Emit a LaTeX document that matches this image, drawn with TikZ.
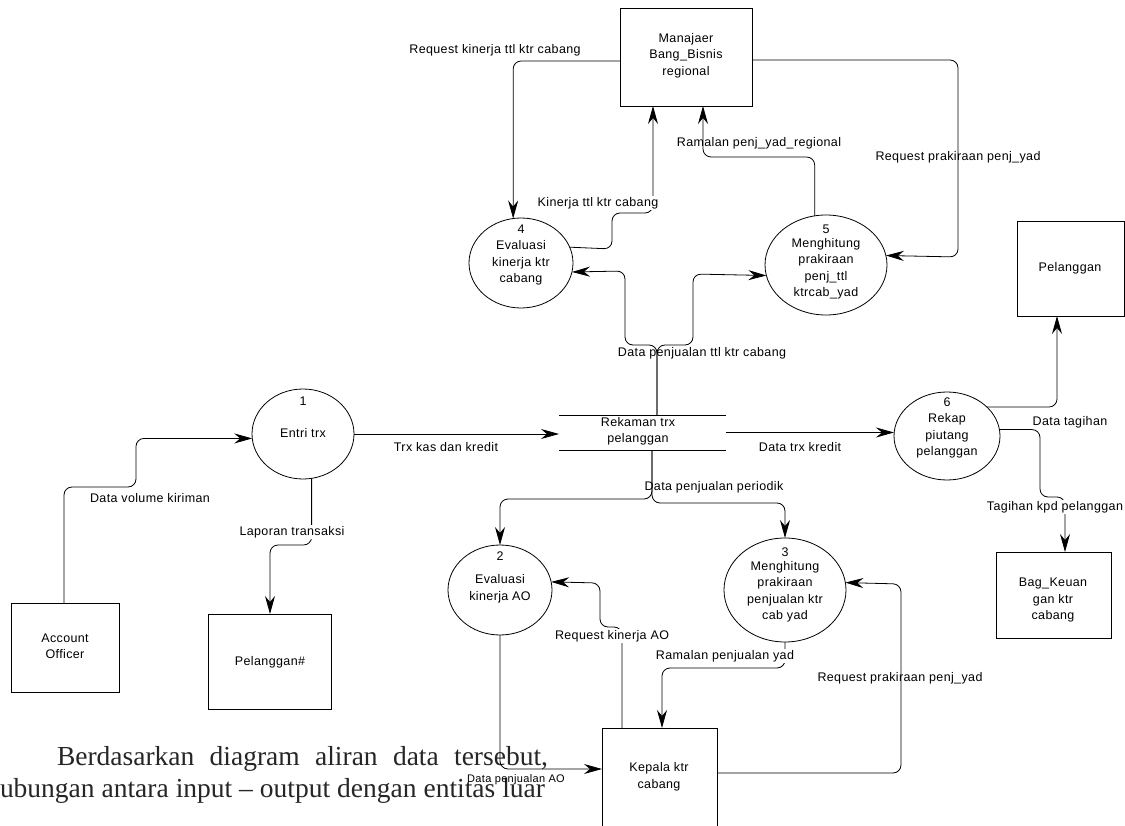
\documentclass[tikz,border=0pt]{standalone}
\usepackage{fontspec}
\newfontfamily\dsf[LetterSpace=3]{Liberation Sans}
\newfontfamily\srf{Liberation Serif}
\usetikzlibrary{arrows.meta,shapes.geometric}
\begin{document}
\begin{tikzpicture}[x=1pt,y=-1pt,
  every node/.style={inner sep=0pt, outer sep=0pt},
  dtxt/.style={font=\dsf\fontsize{12.5}{16.5}\selectfont, align=center},
  lbl/.style={font=\dsf\fontsize{12.5}{15}\selectfont},
  lblw/.style={lbl, fill=white, inner sep=1pt},
  ent/.style={draw, line width=0.8pt, rectangle},
  proc/.style={draw, line width=0.8pt, ellipse},
  link/.style={draw, line width=0.8pt},
  serif/.style={anchor=base west, font=\srf\fontsize{27.5}{32}\selectfont, text=black!85},
  flow/.style={draw, line width=0.8pt, rounded corners=8pt, -{Stealth[length=18pt,width=10pt,inset=6pt]}}]
\useasboundingbox (0,0) rectangle (1125,826);
\clip (0,0) rectangle (1125,826);

% background page text
\node[serif] (s1) at (57,765) {\makebox[491pt][s]{Berdasarkan diagram aliran data tersebut,}};
\node[serif] (s2) at (0,797) {\makebox[545pt][s]{ubungan antara input – output dengan entitas luar}};

% entities and processes
\node[ent, minimum width=132pt, minimum height=98pt] (man) at (686,57) {};
\node[dtxt] (mant) at (686,55.5) {Manajaer\\Bang\_Bisnis\\regional};

\node[proc, minimum width=104pt, minimum height=90pt] (p4) at (521,263) {};
\node[dtxt] (p4t) at (521,255) {4\\Evaluasi\\kinerja ktr\\cabang};

\node[proc, minimum width=122pt, minimum height=100pt] (p5) at (826,265) {};
\node[dtxt] (p5t) at (826,262) {5\\[-3pt]Menghitung\\prakiraan\\penj\_ttl\\ktrcab\_yad};

\node[ent, minimum width=107pt, minimum height=95pt] (pel) at (1070.5,268.5) {};
\node[dtxt] (pelt) at (1070,268) {Pelanggan};

\node[proc, minimum width=102pt, minimum height=90pt] (p1) at (303,434) {};
\node[dtxt] (p1t) at (303,417) {1\\[16pt]Entri trx};

\node[minimum width=167pt, minimum height=35pt] (store) at (642.5,432.5) {};
\draw[link] (store.north west) -- (store.north east);
\draw[link] (store.south west) -- (store.south east);
\node[dtxt] (storet) at (638,431.5) {Rekaman trx\\pelanggan};

\node[proc, minimum width=106pt, minimum height=88pt] (p6) at (947,436) {};
\node[dtxt] (p6t) at (947,428) {6\\Rekap\\piutang\\pelanggan};

\node[ent, minimum width=108pt, minimum height=89pt] (ao) at (65,647.5) {};
\node[dtxt] (aot) at (65,646.5) {Account\\Officer};

\node[ent, minimum width=123pt, minimum height=95pt] (pelh) at (269.5,661.5) {};
\node[dtxt] (pelht) at (270,662) {Pelanggan\#};

\node[proc, minimum width=104pt, minimum height=90pt] (p2) at (500,590) {};
\node[dtxt] (p2t) at (500,577) {2\\[7pt]Evaluasi\\kinerja AO};

\node[proc, minimum width=122pt, minimum height=104pt] (p3) at (785,590) {};
\node[dtxt] (p3t) at (785,585) {3\\[-3pt]Menghitung\\prakiraan\\penjualan ktr\\cab yad};

\node[ent, minimum width=115pt, minimum height=86pt] (bag) at (1053.5,595) {};
\node[dtxt] (bagt) at (1053,600) {Bag\_Keuan\\gan ktr\\cabang};

\node[ent, minimum width=115pt, minimum height=102pt] (kep) at (659.5,779) {};
\node[dtxt] (kept) at (659,777) {Kepala ktr\\cabang};

% flows
\draw[flow] (man.west |- 0,61) -| (p4.100);
\draw[flow] (p4.18) -- (612,249) -- (612,213) -- (653,213) -- (man.south -| 653,0);
\draw[flow] (p5.103) |- (703,157) -- (man.south -| 703,0);
\draw[flow] (man.east |- 0,60) -| (958,257) -- (p5.9);
\draw[flow] (store.north -| 657,0) -- (657,345) -| (625,271) -- (p4.-10);
\draw[flow] (store.north -| 657,0) -- (657,345) -| (693,274) -- (p5.190);
\draw[flow] (ao.north -| 64,0) |- (136,487) |- (p1.185);
\draw[flow] (p1.east) -- (store.west |- p1.east);
\draw[flow] (p1.-79) |- (270,545) -- (pelh.north -| 270,0);
\draw[flow] (store.east) -- (p6.west |- store.east);
\draw[flow] (p6.36) -| (pel.south -| 1057,0);
\draw[flow] (p6.7) -| (1040,497) -| (bag.north -| 1065,0);
\draw[flow] (store.south -| 652,0) -- (652,499) -| (p2.north);
\draw[flow] (store.south -| 652,0) -- (652,503) -| (p3.north);
\draw[flow] (kep.north -| 622,0) -- (622,627) -| (600,583) -- (p2.9);
\draw[flow] (p3.south) |- (662,668) -- (kep.north -| 662,0);
\draw[flow] (kep.east |- 0,773) -| (901,584) -- (p3.7);
\draw[flow] (p2.south) |- (kep.west |- 0,769);

% flow labels
\node[lbl] (l1) at (495,50) {Request kinerja ttl ktr cabang};
\node[lblw] (l2) at (598,203) {Kinerja ttl ktr cabang};
\node[lbl] (l3) at (759,143) {Ramalan penj\_yad\_regional};
\node[lbl] (l4) at (958,157) {Request prakiraan penj\_yad};
\node[lbl] (l5) at (702,353) {Data penjualan ttl ktr cabang};
\node[lbl] (l6) at (150,498) {Data volume kiriman};
\node[lbl] (l7) at (446,447) {Trx kas dan kredit};
\node[lblw] (l8) at (292,532) {Laporan transaksi};
\node[lbl] (l9) at (800,447) {Data trx kredit};
\node[lbl] (l10) at (1070,422) {Data tagihan};
\node[lblw] (l11) at (1055,507) {Tagihan kpd pelanggan};
\node[lbl] (l12) at (714,487) {Data penjualan periodik};
\node[lblw] (l13) at (612,636) {Request kinerja AO};
\node[lblw] (l14) at (725,656) {Ramalan penjualan yad};
\node[lbl] (l15) at (900,678) {Request prakiraan penj\_yad};
\node[lbl, font=\dsf\fontsize{11}{13}\selectfont] (l16) at (516,780) {Data penjualan AO};
\end{tikzpicture}
\end{document}
